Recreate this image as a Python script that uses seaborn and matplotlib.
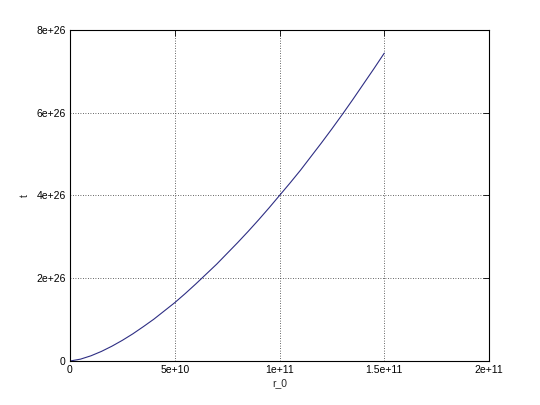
import matplotlib as mpl
import numpy as np
import pandas as pd
import seaborn as sns
from matplotlib import pyplot as plt

# values (r_0 in units of 1e10, t in units of 1e26)
R0 = [0, 0.5, 1, 1.5, 2, 2.5, 3, 3.5, 4, 4.5, 5, 5.5, 6, 6.5, 7, 7.5,
      8, 8.5, 9, 9.5, 10, 10.5, 11, 11.5, 12, 12.5, 13, 13.5, 14, 14.5, 15]
T = [0, 0.045, 0.126, 0.232, 0.358, 0.50, 0.657, 0.83, 1.01, 1.21, 1.41,
     1.63, 1.86, 2.10, 2.34, 2.60, 2.86, 3.13, 3.41, 3.70, 4.0, 4.30, 4.61,
     4.94, 5.27, 5.61, 5.96, 6.32, 6.69, 7.06, 7.44]
X_TICKS = [0, 5e10, 1e11, 1.5e11, 2e11]
X_LABELS = ['0', '5e+10', '1e+11', '1.5e+11', '2e+11']
Y_TICKS = [0, 2e26, 4e26, 6e26, 8e26]
Y_LABELS = ['0', '2e+26', '4e+26', '6e+26', '8e+26']

df = pd.DataFrame({'r_0': np.array(R0) * 1e10, 't': np.array(T) * 1e26})

sns.set_theme(style='white')
plt.rcParams['font.family'] = ['Liberation Sans', 'DejaVu Sans']

fig = plt.figure(figsize=(5.4, 4.05), dpi=100)
ax = fig.add_axes([0.1296, 0.1086, 0.776, 0.8174])

sns.lineplot(data=df, x='r_0', y='t', ax=ax, color='#2e2e84', linewidth=0.8)

ax.set_xlim(0, 2e11)
ax.set_ylim(0, 8e26)
ax.set_xticks(X_TICKS)
ax.set_xticklabels(X_LABELS, fontsize=7.5)
ax.set_yticks(Y_TICKS)
ax.set_yticklabels(Y_LABELS, fontsize=7.5)
ax.tick_params(direction='in', top=True, right=True, length=4, width=0.6,
               colors='black', pad=3)
ax.grid(True, linestyle=(0, (1, 2)), color='#333333', linewidth=0.6)
for s in ax.spines.values():
    s.set_color('black')
    s.set_linewidth(0.8)

ax.set_xlabel('r_0', fontsize=7.5, labelpad=2)
ax.set_ylabel('t', fontsize=7.5, labelpad=5)

plt.savefig('out.png', dpi=100)
